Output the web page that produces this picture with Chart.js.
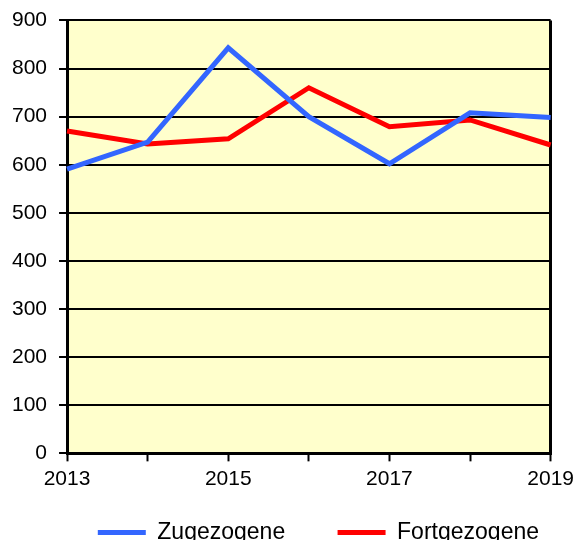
<!DOCTYPE html>
<html>
<head>
<meta charset="utf-8">
<script src="https://cdn.jsdelivr.net/npm/chart.js@4/dist/chart.umd.min.js"></script>
<style>
    html, body { margin: 0; padding: 0; background: #fff; overflow: hidden; }
    #wrap { width: 575px; height: 554px; position: relative; }
</style>
</head>
<body>
<div id="wrap"><canvas id="grafik"></canvas></div>
<script>
// Wanderungen: Zu- und Fortzüge je Jahr
const jahre = ["2013", "2014", "2015", "2016", "2017", "2018", "2019"];
const zugezogene = [591, 647, 843, 700, 602, 708, 698];
const fortgezogene = [670, 643, 654, 760, 679, 693, 641];

// gelber Hintergrund nur im Diagrammbereich
const hintergrund = {
    id: "hintergrund",
    beforeDraw(chart) {
        const { ctx, chartArea: a } = chart;
        ctx.save();
        ctx.fillStyle = "#FFFFCC";
        ctx.fillRect(a.left, a.top, a.right - a.left, a.bottom - a.top);
        ctx.restore();
    }
};

Chart.defaults.font.family = "'Liberation Sans', Arial, sans-serif";
Chart.defaults.color = "#000";

const ctx = document.getElementById("grafik");
new Chart(ctx, {
    type: "line",
    data: {
        labels: jahre,
        datasets: [
            {
                label: "Zugezogene",
                data: zugezogene,
                borderColor: "#3366FF",
                backgroundColor: "#3366FF",
                borderWidth: 5,
                pointRadius: 0,
                tension: 0
            },
            {
                label: "Fortgezogene",
                data: fortgezogene,
                borderColor: "#FF0000",
                backgroundColor: "#FF0000",
                borderWidth: 5,
                pointRadius: 0,
                tension: 0
            }
        ]
    },
    options: {
        responsive: true,
        maintainAspectRatio: false,
        animation: false,
        layout: { padding: { left: 0, right: 13, top: 14, bottom: 0 } },
        scales: {
            x: {
                offset: false,
                border: { color: "#000", width: 3 },
                grid: {
                    color: (c) => c.index === jahre.length - 1 ? "#000" : "transparent",
                    lineWidth: 3,
                    tickColor: "#000",
                    tickWidth: 2,
                    tickLength: 8
                },
                ticks: {
                    autoSkip: false,
                    maxRotation: 0,
                    padding: 1,
                    font: { size: 21, lineHeight: 1.65 },
                    callback: (v, i) => i % 2 === 0 ? jahre[i] : ""
                }
            },
            y: {
                min: 0,
                max: 900,
                border: { color: "#000", width: 3 },
                grid: {
                    color: "#000",
                    lineWidth: 2,
                    tickColor: "#000",
                    tickLength: 8
                },
                ticks: {
                    stepSize: 100,
                    padding: 12,
                    font: { size: 21, lineHeight: 0.8 }
                }
            }
        },
        plugins: {
            legend: {
                position: "bottom",
                align: "end",
                labels: {
                    boxWidth: 48,
                    boxHeight: 5,
                    padding: 23,
                    font: { size: 23 },
                    generateLabels(chart) {
                        const items = Chart.defaults.plugins.legend.labels.generateLabels(chart);
                        items.forEach((it, i) => {
                            it.lineWidth = 0;
                            // etwas mehr Abstand zwischen den beiden Einträgen
                            if (i === 0) it.text += "\u2003 ";
                        });
                        return items;
                    }
                }
            },
            tooltip: { enabled: false }
        }
    },
    plugins: [hintergrund]
});
</script>
</body>
</html>
